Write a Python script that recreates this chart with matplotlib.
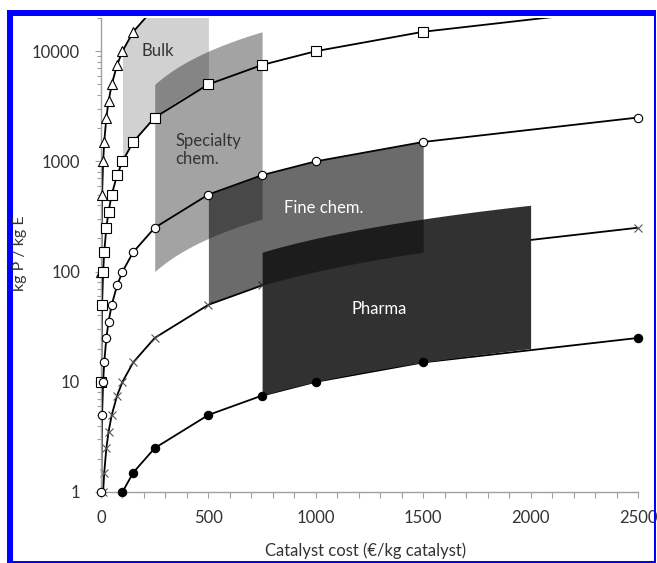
import matplotlib
matplotlib.use("Agg")
import matplotlib.pyplot as plt
from matplotlib.patches import Rectangle
import numpy as np

plt.rcParams['font.family'] = ['Lato', 'DejaVu Sans']

# catalyst cost (EUR/kg catalyst) at which each series was evaluated
cost = [1, 5, 10, 15, 25, 35, 50, 75, 100, 150, 250, 500, 750, 1000, 1500, 2500]
# kg P / kg E needed for each series
prod_tri = [100, 500, 1000, 1500, 2500, 3500, 5000, 7500, 10000, 15000, 25000,
            50000, 75000, 100000, 150000, 250000]
prod_sq = [10, 50, 100, 150, 250, 350, 500, 750, 1000, 1500, 2500, 5000, 7500,
           10000, 15000, 25000]
prod_circ = [1, 5, 10, 15, 25, 35, 50, 75, 100, 150, 250, 500, 750, 1000, 1500, 2500]
prod_x = [0.1, 0.5, 1, 1.5, 2.5, 3.5, 5, 7.5, 10, 15, 25, 50, 75, 100, 150, 250]
prod_dot = [0.01, 0.05, 0.1, 0.15, 0.25, 0.35, 0.5, 0.75, 1, 1.5, 2.5, 5, 7.5,
            10, 15, 25]

# sector windows: cost range, and lower/upper productivity at both ends
sectors = ["Bulk", "Specialty\nchem.", "Fine chem.", "Pharma"]
sec_x = [(100, 500), (250, 750), (500, 1500), (750, 2000)]
sec_low = [(1000, 5000), (100, 300), (50, 150), (7.5, 20)]
sec_high = [(10000, 50000), (5000, 15000), (500, 1500), (150, 400)]
sec_color = ['black', 'black', '#0f0f0f', '#313131']
sec_alpha = [0.18, 0.36, 0.617, 1.0]
sec_z = [2.0, 2.1, 2.3, 2.2]

ymin, ymax = 1, 20000

fig = plt.figure(figsize=(6.57, 5.63), dpi=100)
ax = fig.add_axes([101 / 657, 1 - 492 / 563, 537 / 657, 474 / 563])
ax.set_yscale('log')
ax.set_xlim(0, 2500)
ax.set_ylim(ymin, ymax)

series = [
    (prod_tri, '^', 'white', 'black', 3),
    (prod_sq, 's', 'white', 'black', 3),
    (prod_circ, 'o', 'white', 'black', 3),
    (prod_x, 'x', 'none', '#555555', 1),
    (prod_dot, 'o', 'black', 'black', 3),
]
c = np.array(cost)
for vals, mk, fc, ec, z in series:
    v = np.array(vals)
    ax.plot(c, v, color='black', lw=1.3, zorder=1)
    keep = (v >= ymin) & (v <= ymax)
    ms = 6.5 if mk in ('s', '^') else 6
    ax.plot(c[keep], v[keep], ls='none', marker=mk, ms=ms, mfc=fc, mec=ec,
            mew=0.8, zorder=z, clip_on=False)

for (x0, x1), (l0, l1), (h0, h1), col, a, z in zip(sec_x, sec_low, sec_high,
                                                  sec_color, sec_alpha, sec_z):
    xx = np.linspace(x0, x1, 50)
    lo = np.interp(xx, [x0, x1], [l0, l1])
    hi = np.interp(xx, [x0, x1], [h0, h1])
    ax.fill_between(xx, lo, hi, color=col, alpha=a, lw=0, zorder=z)

ax.text(266, 10000, "Bulk", ha='center', va='center', fontsize=12,
        color='#333333', zorder=4)
ax.text(345, 1270, "Specialty\nchem.", ha='left', va='center', fontsize=12,
        color='#333333', linespacing=1.1, zorder=4)
ax.text(1039, 376, "Fine chem.", ha='center', va='center', fontsize=12,
        color='white', zorder=4)
ax.text(1295, 46, "Pharma", ha='center', va='center', fontsize=12,
        color='white', zorder=4)

for s in ['top', 'right']:
    ax.spines[s].set_visible(False)
for s in ['left', 'bottom']:
    ax.spines[s].set_color('#a0a0a0')
    ax.spines[s].set_linewidth(1.0)

ax.set_xticks([0, 500, 1000, 1500, 2000, 2500])
ax.set_xticks(np.arange(0, 2501, 100), minor=True)
ax.set_yticks([1, 10, 100, 1000, 10000])
ax.set_yticklabels(['1', '10', '100', '1000', '10000'])
ax.set_xticklabels(['0', '500', '1000', '1500', '2000', '2500'])
ax.tick_params(axis='both', which='both', colors='#a0a0a0', labelcolor='#333333',
               labelsize=12, width=0.8)
ax.tick_params(axis='x', which='major', length=4, pad=9)
ax.tick_params(axis='x', which='minor', length=4)
ax.tick_params(axis='y', which='major', length=4, pad=11)
ax.tick_params(axis='y', which='minor', length=3)
ax.yaxis.set_minor_formatter(plt.NullFormatter())

fig.text(366 / 657, 1 - 551 / 563, "Catalyst cost (\u20ac/kg catalyst)",
         ha='center', va='center', fontsize=12, color='#333333')
fig.text(20 / 657, 1 - 253 / 563, "kg P / kg E", ha='center', va='center',
         rotation=90, fontsize=11.5, color='#333333')

# blue frame round the figure
W, H = 657, 563
for x, y, w, h in [(7, 547, 649, 6), (7, 0, 6, 553), (654, 0, 2, 553), (7, 0, 649, 2)]:
    fig.add_artist(Rectangle((x / W, y / H), w / W, h / H, color='#0000ff',
                             transform=fig.transFigure, lw=0))

fig.savefig('out.png', dpi=100)
